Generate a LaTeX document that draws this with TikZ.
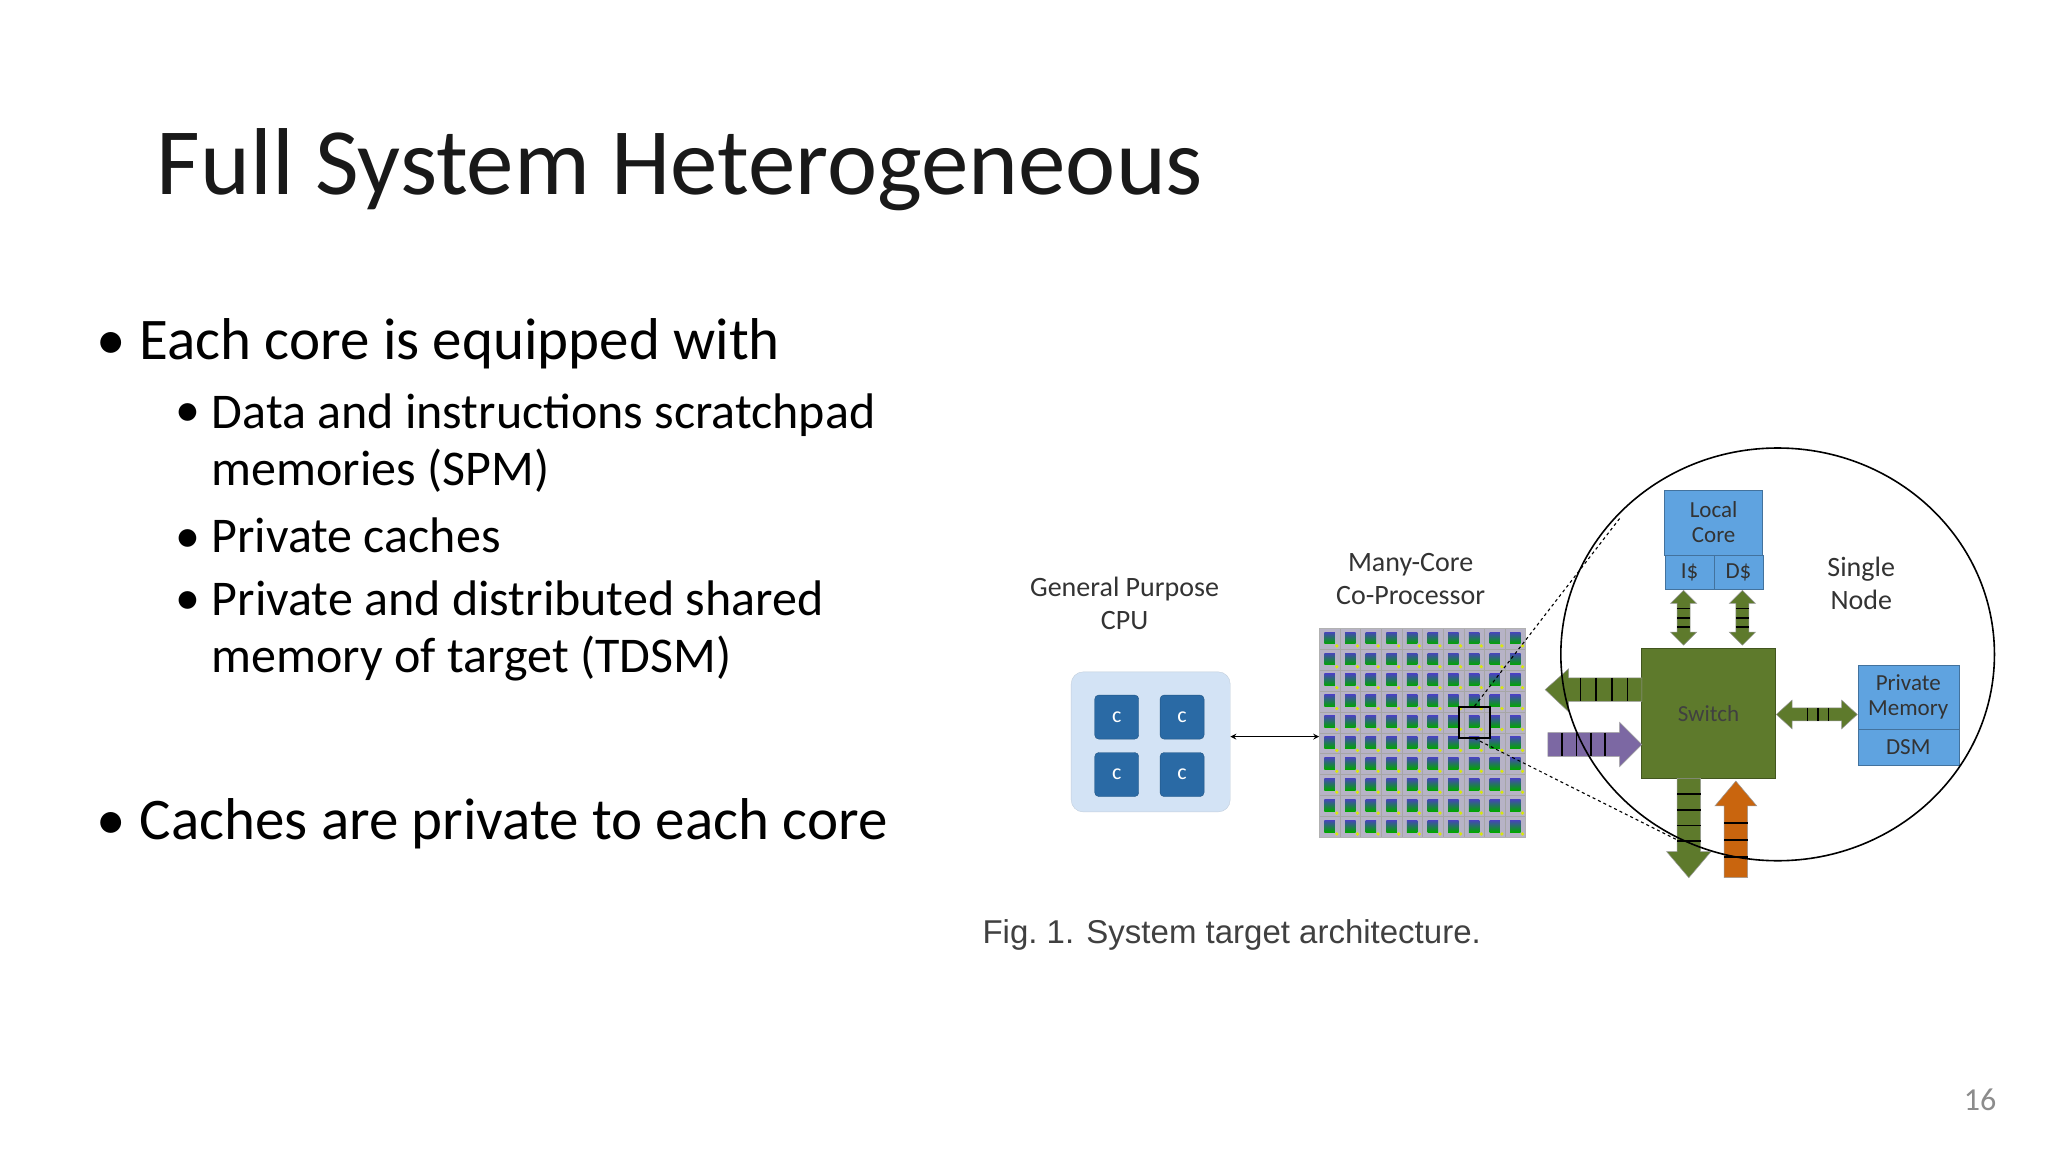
\documentclass[tikz,border=0pt]{standalone}
\usepackage{fontspec}
\setmainfont{Carlito}
\newfontfamily\capfont{Liberation Sans}
\begin{document}
\begin{tikzpicture}[x=1.306pt,y=-1.306pt]
\definecolor{olive}{HTML}{5E7A2C}
\definecolor{lblue}{HTML}{D3E3F5}
\definecolor{cblue}{HTML}{2A6AA5}
\definecolor{boxblue}{HTML}{5FA3E0}
\definecolor{purp}{HTML}{7C68A3}
\definecolor{orng}{HTML}{C9650E}
\definecolor{lav}{HTML}{B7B3C6}
\tikzset{
  lbl/.style={font=\fontsize{28}{33}\selectfont, text=black!80, align=center},
  core/.style={fill=cblue, draw=cblue!80!black, rounded corners=4pt, minimum size=44pt, text=white, font=\fontsize{22}{24}\selectfont},
  bbox/.style={draw=boxblue!70!black, fill=boxblue, text=black!80, align=center, font=\fontsize{23}{25}\selectfont, inner sep=0pt},
  stripe/.style={line width=1.6pt, black},
  fat/.style={draw=black!40, line width=0.5pt},
  bul/.style={anchor=west, inner sep=0pt},
  sub/.style={anchor=west, inner sep=0pt, font=\fontsize{50}{57}\selectfont, align=left},
}
\useasboundingbox (0,0) rectangle (1568,882);
\fill[white] (0,0) rectangle (1568,882);
% title & bullets
\node[anchor=west, inner sep=0pt, font=\fontsize{95}{98}\selectfont, text=black!90] (title) at (120,130) {Full System Heterogeneous};
\node[bul, font=\fontsize{59}{64}\selectfont] (b1) at (74,263) {\textbullet\ Each core is equipped with};
\node[sub] (s1d) at (134,318) {\textbullet};
\node[sub] (s1) at (162,339) {Data and instructions scratchpad\\memories (SPM)};
\node[sub] (s2) at (134,410) {\textbullet\ Private caches};
\node[sub] (s3d) at (134,462) {\textbullet};
\node[sub] (s3) at (162,483) {Private and distributed shared\\memory of target (TDSM)};
\node[bul, font=\fontsize{59}{64}\selectfont] (b2) at (74,631) {\textbullet\ Caches are private to each core};
\node[font=\fontsize{32}{34}\selectfont, text=black!45] (pg) at (1516,842) {16};
% CPU
\node[lbl] (cpulbl) at (861,462) {General Purpose\\CPU};
\node[draw=lblue!80!gray, fill=lblue, rounded corners=12pt, minimum width=159pt, minimum height=140pt] (cpu) at (881,568) {};
\node[core] (c1) at (855,549) {c};
\node[core] (c2) at (905,549) {c};
\node[core] (c3) at (855,593) {c};
\node[core] (c4) at (905,593) {c};
% grid
\node[lbl] (mclbl) at (1080,443) {Many-Core\\Co-Processor};
\fill[lav] (1010,481) rectangle (1168,641);
\foreach \i in {0,...,9}{\foreach \j in {0,...,9}{
  \pgfmathsetmacro\xx{1010+\i*15.8}\pgfmathsetmacro\yy{481+\j*16}
  \shade[top color=blue!45!gray, bottom color=green!65!black] (\xx+4,\yy+3) rectangle (\xx+12,\yy+12);
  \fill[yellow!85!green] (\xx+13.5,\yy+13.5) circle (1.4);
  \draw[gray!70, line width=0.3pt] (\xx,\yy) rectangle (\xx+15.8,\yy+16);
}}
\node[draw=gray!60, line width=0.5pt, minimum width=206pt, minimum height=209pt, inner sep=0pt] (grid) at (1089,561) {};
\draw[<->, >=stealth, line width=1.6pt] (cpu.east |- 0,564) -- (grid.west |- 0,564);
\node[draw=black, line width=1.5pt, minimum width=31pt, minimum height=31pt, inner sep=0pt] (zsq) at (1129,553) {};
\coordinate (ct) at (1240,397);
\coordinate (cb) at (1290,646);
\draw[dashed, line width=1.1pt] (zsq.north) -- (ct);
\draw[dashed, line width=1.1pt] (zsq.south) -- (cb);
% node detail
\node[bbox, minimum width=98pt, minimum height=65pt] (lc) at (1312,400) {Local\\Core};
\node[bbox, minimum width=49pt, minimum height=34pt] (ic) at (1293.5,438) {I\$};
\node[bbox, minimum width=49pt, minimum height=34pt] (dc) at (1331,438) {D\$};
\node[lbl] (sn) at (1425,447) {Single\\Node};
\node[draw=olive!70!black, fill=olive, minimum width=134pt, minimum height=130pt, font=\fontsize{23}{25}\selectfont, text=black!75] (sw) at (1308,546) {Switch};
\node[bbox, minimum width=101pt, minimum height=64pt] (pm) at (1461,533.5) {Private\\Memory};
\node[bbox, minimum width=101pt, minimum height=36pt] (dsm) at (1461,572) {DSM};
% fat arrows
\fill[olive,fat] (1257,519)--(1201,519)--(1201,512)--(1183,528)--(1201,545)--(1201,537)--(1257,537)--cycle;
\foreach \x in {1210,1222,1234,1246} \draw[stripe] (\x,519)--(\x,537);
\fill[purp,fat] (1185,561)--(1240,561)--(1240,553)--(1257,570)--(1240,587)--(1240,579)--(1185,579)--cycle;
\foreach \x in {1196,1207,1218,1229} \draw[stripe] (\x,561)--(\x,579);
\fill[olive,fat] (1360,547)--(1372,536)--(1372,542)--(1410,542)--(1410,536)--(1422,547)--(1410,558)--(1410,552)--(1372,552)--(1372,558)--cycle;
\foreach \x in {1384,1392,1400} \draw[stripe] (\x,542)--(\x,552);
\foreach \c in {1289,1334}{
  \fill[olive,fat] (\c,452)--(\c+10,462)--(\c+5,462)--(\c+5,484)--(\c+10,484)--(\c,494)--(\c-10,484)--(\c-5,484)--(\c-5,462)--(\c-10,462)--cycle;
  \foreach \y in {466,473,480} \draw[stripe] (\c-5,\y)--(\c+5,\y);
}
\fill[olive,fat] (1284,596)--(1302,596)--(1302,652)--(1310,652)--(1293,672)--(1276,652)--(1284,652)--cycle;
\foreach \y in {608,620,632,644} \draw[stripe] (1284,\y)--(1302,\y);
\fill[orng,fat] (1320,672)--(1338,672)--(1338,617)--(1345,617)--(1329,598)--(1313,617)--(1320,617)--cycle;
\foreach \y in {630,643,656} \draw[stripe] (1320,\y)--(1338,\y);
\draw[line width=1.6pt] (1361,501) ellipse (166 and 158);
% caption
\node[font=\capfont\fontsize{33}{35}\selectfont, text=black!75] (cap) at (943,716) {Fig.~1. System target architecture.};
\end{tikzpicture}
\end{document}
